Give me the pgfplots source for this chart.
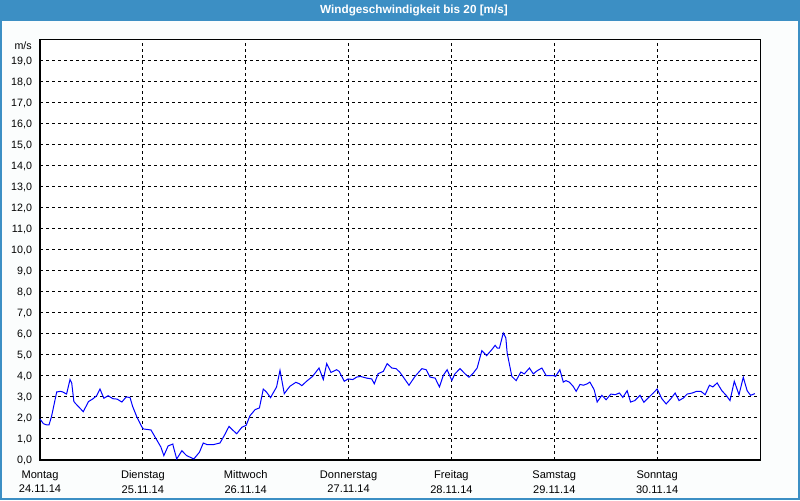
\documentclass[border=0pt]{standalone}
\usepackage{fontspec}
\setmainfont{Liberation Sans}
\usepackage{pgfplots}
\pgfplotsset{compat=1.18}
\definecolor{titleblue}{RGB}{60,143,196}
\definecolor{bgcol}{RGB}{251,253,253}
\begin{document}
\begin{tikzpicture}[x=1pt,y=1pt]
\fill[bgcol] (0,0) rectangle (600,375);
\fill[titleblue] (0,359.5) rectangle (600,375);
\draw[titleblue, line width=1.5pt] (0.75,0.75) rectangle (599.25,374.25);
\node[white, font=\bfseries\fontsize{8.8}{10}\selectfont] at (310.5,367.2) {Windgeschwindigkeit bis 20 [m/s]};
\begin{axis}[
  at={(30pt,30pt)}, anchor=south west,
  width=540pt, height=315pt, scale only axis,
  xmin=0, xmax=168, ymin=0, ymax=20,
  xtick={0,24,48,72,96,120,144},
  xticklabels={{Montag\\24.11.14},{Dienstag\\25.11.14},{Mittwoch\\26.11.14},{Donnerstag\\27.11.14},{Freitag\\28.11.14},{Samstag\\29.11.14},{Sonntag\\30.11.14}},
  ytick={0,1,...,19},
  yticklabel={\pgfmathprintnumber[fixed,fixed zerofill,precision=1,use comma,assume math mode=true]{\tick}},
  major tick length=0pt,
  grid=major,
  grid style={black, line width=0.75pt, dash pattern=on 2.5pt off 2pt},
  axis line style={black, line width=0.75pt},
  xticklabel style={align=center, font=\fontsize{8.3}{11}\selectfont, yshift=-4.5pt},
  yticklabel style={font=\fontsize{8}{9}\selectfont, xshift=-2.5pt},
  axis background/.style={fill=white},
  clip=false,
]
\addplot[blue, line width=0.75pt] coordinates {
(0,1.95)(0.8,1.73)(1.4,1.68)(2.1,1.67)(2.7,2.08)(3.9,3.24)(4.8,3.27)(5.3,3.24)(6.2,3.14)(7.0,3.83)(7.4,3.67)(7.9,2.79)(8.2,2.71)(10.1,2.30)(11.3,2.78)(12.4,2.92)(13.2,3.06)(14.0,3.38)(14.9,2.94)(15.9,3.06)(17.0,2.92)(18.0,2.90)(19.1,2.76)(20.1,3.0)(21.0,2.98)(21.6,2.56)(22.6,2.05)(23.7,1.60)(24.1,1.48)(25.9,1.43)(27.2,0.97)(28.2,0.62)(28.9,0.21)(29.9,0.67)(31.0,0.76)(31.1,0.65)(31.9,0.05)(33.1,0.44)(34.2,0.21)(35.9,0.05)(37.2,0.37)(38.1,0.81)(39.0,0.73)(40.4,0.73)(42.0,0.81)
(43.2,1.24)(44.1,1.60)(45.1,1.40)(45.9,1.25)(47.1,1.56)(48.1,1.65)(49.0,2.11)(50.2,2.40)(51.2,2.48)(52.1,3.38)(52.9,3.22)(53.8,2.97)(54.4,3.19)(55.2,3.48)(56.0,4.27)(57.0,3.16)(58.3,3.51)(59.7,3.70)(60.5,3.63)(61.1,3.54)(62.2,3.75)(63.6,3.98)(65.1,4.38)(66.1,3.83)(66.9,4.59)(67.9,4.17)(69.2,4.30)(69.8,4.22)(71.0,3.75)(71.9,3.86)(73.0,3.83)(73.9,3.95)(74.8,3.98)(76.2,3.90)(77.4,3.86)(78.0,3.63)(78.9,4.11)(80.1,4.22)(81.0,4.59)(82.1,4.38)(83.1,4.35)(84.0,4.17)
(84.8,3.94)(86.1,3.56)(87.5,3.98)(89.1,4.35)(90.1,4.30)(91.0,3.95)(92.2,3.90)(93.2,3.48)(94.1,4.03)(95.0,4.30)(95.5,4.06)(96.1,3.79)(96.8,4.10)(98.0,4.35)(99.2,4.10)(100.1,3.94)(101.1,4.14)(102.0,4.38)(103.1,5.21)(104.2,4.97)(105.4,5.25)(106.2,5.46)(106.7,5.33)(107.2,5.33)(108.1,6.05)(108.7,5.81)(109.0,5.10)(110.1,3.98)(111.1,3.78)(112.2,4.19)(113.0,4.10)(114.2,4.38)(115.1,4.10)(116.0,4.25)(117.1,4.38)(118.1,4.02)(119.8,4.02)(120.3,3.98)(121.3,4.30)(122.1,3.71)(122.7,3.78)(123.5,3.71)(124.4,3.51)(125.1,3.27)(126.0,3.60)
(126.8,3.56)(127.7,3.63)(128.3,3.71)(129.3,3.35)(130.0,2.76)(131.1,3.08)(132.1,2.87)(133.2,3.14)(134.2,3.11)(135.2,3.19)(136.0,2.98)(137.0,3.30)(137.8,2.76)(138.8,2.83)(140.0,3.08)(140.9,2.75)(141.9,2.95)(143.1,3.19)(144.0,3.38)(145.1,2.92)(146.1,2.67)(147.2,2.92)(148.2,3.19)(149.1,2.83)(150.1,2.95)(151.0,3.14)(152.2,3.19)(153.2,3.27)(154.2,3.27)(155.2,3.11)(156.2,3.56)(157.0,3.48)(158.0,3.67)(159.1,3.30)(160.1,3.08)(161.0,2.83)(162.0,3.75)(163.1,3.11)(164.1,3.94)(165.0,3.30)(165.8,3.08)(166.8,3.16)
};
\node[anchor=east, font=\fontsize{8}{9}\selectfont, inner sep=0pt] at (rel axis cs:0,1) [xshift=-6pt, yshift=-4.5pt] {m/s};
\end{axis}
\end{tikzpicture}
\end{document}
